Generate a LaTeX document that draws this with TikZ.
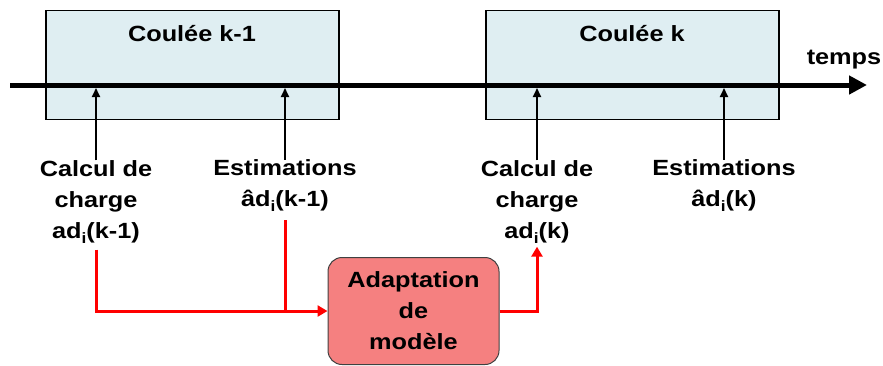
\documentclass[tikz,border=0pt]{standalone}
\usepackage{fontspec}
\setmainfont{Liberation Sans}[FakeStretch=1.15]
\usetikzlibrary{arrows.meta,calc}
\definecolor{boxblue}{HTML}{DFEEF2}
\definecolor{adaptred}{HTML}{F58080}
\definecolor{edgegray}{HTML}{404040}
\newcommand{\subi}{\raisebox{-5pt}{\fontsize{15}{15}\selectfont i}}
\tikzset{
  lbl/.style={font=\bfseries\fontsize{22}{31}\selectfont, align=center, inner sep=0pt},
  phase/.style={draw=black, line width=1.2pt, fill=boxblue},
  tick/.style={line width=1.8pt, -{Triangle[width=8pt,length=9pt]}},
  redline/.style={red, line width=3pt},
  adaptbox/.style={draw=edgegray, line width=1pt, fill=adaptred, rounded corners=14pt,
    minimum width=171pt, minimum height=107pt, inner sep=0pt,
    font=\bfseries\fontsize{22}{31}\selectfont, align=center}
}
\begin{document}
\begin{tikzpicture}[x=1pt,y=-1pt]
\useasboundingbox (0,0) rectangle (883,365);
% phase boxes
\node[phase, minimum width=293pt, minimum height=109pt, inner sep=0pt] (b1) at (192.5,65) {};
\node[phase, minimum width=293pt, minimum height=109pt, inner sep=0pt] (b2) at (632.5,65) {};
\node[lbl] (t1) at (192,34) {Coulée k-1};
\node[lbl] (t2) at (632,34) {Coulée k};
% timeline
\coordinate (tA) at (10,85);
\coordinate (tB) at (867,85);
\draw[line width=5pt, -{Triangle[width=18pt,length=18pt]}] (tA) -- (tB);
\node[lbl] (tp) at (844,60) {temps};
% labels
\node[lbl] (c1) at (96,202) {Calcul de\\charge\\ad\subi(k-1)};
\node[lbl] (e1) at (285,186) {Estimations\\âd\subi(k-1)};
\node[lbl] (c2) at (537,202) {Calcul de\\charge\\ad\subi(k)};
\node[lbl] (e2) at (724,186) {Estimations\\âd\subi(k)};
% ticks
\draw[tick] (c1.north) -- ($(c1.north |- tA)+(0,3)$);
\draw[tick] (e1.north) -- ($(e1.north |- tA)+(0,3)$);
\draw[tick] (c2.north) -- ($(c2.north |- tA)+(0,3)$);
\draw[tick] (e2.north) -- ($(e2.north |- tA)+(0,3)$);
% adaptation
\node[adaptbox] (ad) at (413.5,311) {Adaptation\\de\\modèle};
\draw[redline, -{Triangle[width=11pt,length=10pt]}] ($(c1.south)+(0,6)$) |- (ad.west);
\draw[redline] ($(e1.south)+(0,8)$) -- (e1.south |- ad.west);
\draw[redline, -{Triangle[width=11pt,length=10pt]}] (ad.east) -| ($(c2.south)+(0,3)$);
\end{tikzpicture}
\end{document}
